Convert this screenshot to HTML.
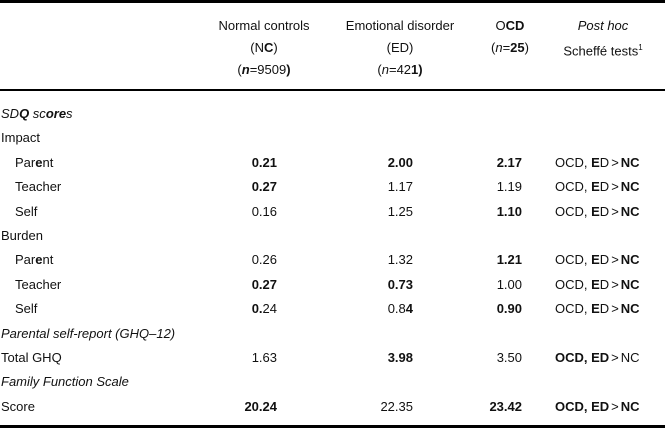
<!DOCTYPE html>
<html><head><style>
body{margin:0;width:665px;height:428px;background:#fff;position:relative;font-family:"Liberation Sans",sans-serif;font-size:13px;color:#111;overflow:hidden}
.t{position:absolute;white-space:nowrap;line-height:16px;transform:translateY(-8px)}
.c{transform:translate(-50%,-8px)}
.r{transform:translate(-100%,-8px)}
.line{position:absolute;left:0;width:665px;background:#000}
b{font-weight:bold}
.g{margin:0 2px}
</style></head><body>
<div class="line" style="top:0;height:3px"></div>
<div class="line" style="top:89px;height:2px"></div>
<div class="line" style="top:425px;height:3px"></div>

<div class="t c" style="left:264px;top:26px">Normal controls</div>
<div class="t c" style="left:264px;top:48px">(N<b>C</b>)</div>
<div class="t c" style="left:264px;top:70px">(<b><i>n</i></b>=9509<b>)</b></div>
<div class="t c" style="left:400px;top:26px">Emotional disorder</div>
<div class="t c" style="left:400px;top:48px">(ED)</div>
<div class="t c" style="left:400px;top:70px">(<i>n</i>=42<b>1)</b></div>
<div class="t c" style="left:510px;top:26px">O<b>CD</b></div>
<div class="t c" style="left:510px;top:48px">(<i>n</i>=<b>25</b>)</div>
<div class="t c" style="left:603px;top:26px"><i>Post hoc</i></div>
<div class="t c" style="left:603px;top:48px">Scheffé tests<sup style="font-size:8px">1</sup></div>

<div class="t" style="left:1px;top:114px"><i>SD<b>Q</b> sc<b>ore</b>s</i></div>
<div class="t" style="left:1px;top:138px">Impact</div>
<div class="t" style="left:15px;top:163px">Par<b>e</b>nt</div>
<div class="t" style="left:15px;top:187px">Teacher</div>
<div class="t" style="left:15px;top:212px">Self</div>
<div class="t" style="left:1px;top:236px">Burden</div>
<div class="t" style="left:15px;top:260px">Par<b>e</b>nt</div>
<div class="t" style="left:15px;top:285px">Teacher</div>
<div class="t" style="left:15px;top:309px">Self</div>
<div class="t" style="left:1px;top:334px"><i>Parental self-report (GHQ–12)</i></div>
<div class="t" style="left:1px;top:358px">Total GHQ</div>
<div class="t" style="left:1px;top:382px"><i>Family Function Scale</i></div>
<div class="t" style="left:1px;top:407px">Score</div>

<div class="t r" style="left:277px;top:163px"><b>0.21</b></div>
<div class="t r" style="left:277px;top:187px"><b>0.27</b></div>
<div class="t r" style="left:277px;top:212px">0.16</div>
<div class="t r" style="left:277px;top:260px">0.26</div>
<div class="t r" style="left:277px;top:285px"><b>0.27</b></div>
<div class="t r" style="left:277px;top:309px"><b>0.</b>24</div>
<div class="t r" style="left:277px;top:358px">1.63</div>
<div class="t r" style="left:277px;top:407px"><b>20.24</b></div>

<div class="t r" style="left:413px;top:163px"><b>2.00</b></div>
<div class="t r" style="left:413px;top:187px">1.17</div>
<div class="t r" style="left:413px;top:212px">1.25</div>
<div class="t r" style="left:413px;top:260px">1.32</div>
<div class="t r" style="left:413px;top:285px"><b>0.73</b></div>
<div class="t r" style="left:413px;top:309px">0.8<b>4</b></div>
<div class="t r" style="left:413px;top:358px"><b>3.98</b></div>
<div class="t r" style="left:413px;top:407px">22.35</div>

<div class="t r" style="left:522px;top:163px"><b>2.17</b></div>
<div class="t r" style="left:522px;top:187px">1.19</div>
<div class="t r" style="left:522px;top:212px"><b>1.10</b></div>
<div class="t r" style="left:522px;top:260px"><b>1.21</b></div>
<div class="t r" style="left:522px;top:285px">1.00</div>
<div class="t r" style="left:522px;top:309px"><b>0.90</b></div>
<div class="t r" style="left:522px;top:358px">3.50</div>
<div class="t r" style="left:522px;top:407px"><b>23.42</b></div>

<div class="t" style="left:555px;top:163px">OCD, <b>E</b>D<span class="g">&gt;</span><b>NC</b></div>
<div class="t" style="left:555px;top:187px">OCD, <b>E</b>D<span class="g">&gt;</span><b>NC</b></div>
<div class="t" style="left:555px;top:212px">OCD, <b>E</b>D<span class="g">&gt;</span><b>NC</b></div>
<div class="t" style="left:555px;top:260px">OCD, <b>E</b>D<span class="g">&gt;</span><b>NC</b></div>
<div class="t" style="left:555px;top:285px">OCD, <b>E</b>D<span class="g">&gt;</span><b>NC</b></div>
<div class="t" style="left:555px;top:309px">OCD, <b>E</b>D<span class="g">&gt;</span><b>NC</b></div>
<div class="t" style="left:555px;top:358px"><b>OCD, ED</b><span class="g">&gt;</span>NC</div>
<div class="t" style="left:555px;top:407px"><b>OCD, ED</b><span class="g">&gt;</span><b>NC</b></div>
</body></html>
